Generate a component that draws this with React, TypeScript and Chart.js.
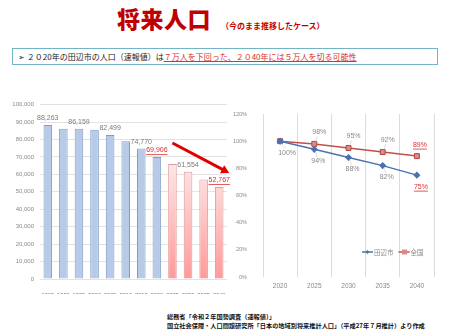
import React, { useEffect, useRef } from "react";
import { Chart, registerables } from "chart.js";

Chart.register(...registerables);

const years = ["1985", "1990", "1995", "2000", "2005", "2010", "2015", "2020", "2025", "2030", "2035", "2040"];
const population = [88263, 86200, 86159, 85600, 82499, 79000, 74770, 69906, 65900, 61554, 57000, 52767];
const actualCount = 8; // first 8 are census values, rest projection
const labeledBars = [0, 2, 4, 6, 7, 9, 11];
const highlightBars = [7, 11];
const popTicks = [0, 100000, 10000];

const ratioYears = ["2020", "2025", "2030", "2035", "2040"];
const tanabe = [100, 94, 88, 82, 75];
const national = [100, 98, 95, 92, 89];
const seriesNames = ["田辺市", "全国"];
const nationalLabeled = [1, 2, 3, 4];

const FONT = "'Liberation Sans', 'Noto Sans CJK JP', sans-serif";
const JP = "'Noto Sans CJK JP', sans-serif";
const GRAY = "#8a8a8a";
const RED_TXT = "#d93030";

function underlineText(ctx: CanvasRenderingContext2D, text: string, x: number, y: number) {
  const w = ctx.measureText(text).width;
  ctx.beginPath();
  ctx.moveTo(x - w / 2, y + 4.5);
  ctx.lineTo(x + w / 2, y + 4.5);
  ctx.lineWidth = 0.8;
  ctx.strokeStyle = ctx.fillStyle as string;
  ctx.stroke();
}

const barLabelPlugin = {
  id: "barLabels",
  afterDatasetsDraw(chart: any) {
    const ctx = chart.ctx;
    const meta = chart.getDatasetMeta(0);
    ctx.save();
    ctx.font = `7px ${FONT}`;
    ctx.textAlign = "center";
    ctx.textBaseline = "middle";
    labeledBars.forEach((i) => {
      const el = meta.data[i];
      const txt = population[i].toLocaleString("en-US");
      const hl = highlightBars.includes(i);
      ctx.fillStyle = hl ? RED_TXT : "#7a7a7a";
      const y = el.y - 7;
      ctx.fillText(txt, el.x, y);
      if (hl) underlineText(ctx, txt, el.x, y);
    });
    // downward trend arrow over the projection bars
    const xs = chart.scales.x;
    const ys = chart.scales.y;
    const x0 = xs.getPixelForValue(8);
    const y0 = ys.getPixelForValue(78000);
    const x1 = xs.getPixelForValue(11) + 10;
    const y1 = ys.getPixelForValue(60800);
    const ang = Math.atan2(y1 - y0, x1 - x0);
    ctx.strokeStyle = "#e00000";
    ctx.fillStyle = "#e00000";
    ctx.lineWidth = 3;
    ctx.beginPath();
    ctx.moveTo(x0, y0);
    ctx.lineTo(x1 - 5 * Math.cos(ang), y1 - 5 * Math.sin(ang));
    ctx.stroke();
    ctx.beginPath();
    ctx.moveTo(x1, y1);
    ctx.lineTo(x1 - 8 * Math.cos(ang) + 4.5 * Math.sin(ang), y1 - 8 * Math.sin(ang) - 4.5 * Math.cos(ang));
    ctx.lineTo(x1 - 8 * Math.cos(ang) - 4.5 * Math.sin(ang), y1 - 8 * Math.sin(ang) + 4.5 * Math.cos(ang));
    ctx.closePath();
    ctx.fill();
    ctx.restore();
  },
};

const lineLabelPlugin = {
  id: "lineLabels",
  afterDatasetsDraw(chart: any) {
    const ctx = chart.ctx;
    ctx.save();
    ctx.font = `7px ${FONT}`;
    ctx.textAlign = "center";
    ctx.textBaseline = "middle";
    const mb = chart.getDatasetMeta(0);
    const mr = chart.getDatasetMeta(1);
    const last = tanabe.length - 1;
    tanabe.forEach((v, i) => {
      const el = mb.data[i];
      const txt = v + "%";
      const hl = i === last;
      ctx.fillStyle = hl ? RED_TXT : GRAY;
      const x = el.x + (i === 0 ? 7 : 4);
      const y = el.y + 11.5;
      ctx.fillText(txt, x, y);
      if (hl) underlineText(ctx, txt, x, y);
      if (!hl) {
        ctx.strokeStyle = "#bbbbbb";
        ctx.lineWidth = 0.5;
        ctx.beginPath();
        ctx.moveTo(el.x + 1, el.y + 2);
        ctx.lineTo(x - 1, y - 4);
        ctx.stroke();
      }
    });
    nationalLabeled.forEach((i) => {
      const el = mr.data[i];
      const txt = national[i] + "%";
      const hl = i === last;
      ctx.fillStyle = hl ? RED_TXT : GRAY;
      const x = el.x + (hl ? 3 : 5);
      const y = el.y - 11.5;
      ctx.fillText(txt, x, y);
      if (hl) underlineText(ctx, txt, x, y);
      if (!hl) {
        ctx.strokeStyle = "#bbbbbb";
        ctx.lineWidth = 0.5;
        ctx.beginPath();
        ctx.moveTo(el.x + 1, el.y - 2);
        ctx.lineTo(x - 2, y + 4);
        ctx.stroke();
      }
    });
    // legend inside chart area, bottom right
    const ca = chart.chartArea;
    let lx = ca.right - 72;
    const ly = ca.bottom - 25;
    ctx.textAlign = "left";
    ctx.font = `6.5px ${JP}`;
    chart.data.datasets.forEach((ds: any, k: number) => {
      ctx.strokeStyle = ds.borderColor;
      ctx.lineWidth = 1.5;
      ctx.beginPath();
      ctx.moveTo(lx, ly);
      ctx.lineTo(lx + 11, ly);
      ctx.stroke();
      ctx.fillStyle = ds.pointBackgroundColor;
      if (k === 0) {
        ctx.beginPath();
        ctx.moveTo(lx + 5.5, ly - 2);
        ctx.lineTo(lx + 7.5, ly);
        ctx.lineTo(lx + 5.5, ly + 2);
        ctx.lineTo(lx + 3.5, ly);
        ctx.closePath();
        ctx.fill();
      } else {
        ctx.fillRect(lx + 3.5, ly - 2.5, 5, 5);
      }
      ctx.fillStyle = GRAY;
      ctx.fillText(ds.label, lx + 12, ly + 0.5);
      lx += 12 + ctx.measureText(ds.label).width + 5;
    });
    ctx.restore();
  },
};

function BarChart() {
  const ref = useRef<HTMLCanvasElement>(null);
  useEffect(() => {
    const chart = new Chart(ref.current!, {
      type: "bar",
      data: {
        labels: years,
        datasets: [
          {
            data: population,
            barPercentage: 0.55,
            categoryPercentage: 1,
            borderWidth: 1,
            borderColor: population.map((_, i) => (i < actualCount ? "#7f9dc9" : "#e39a9a")),
            backgroundColor: (c: any) => {
              const i = c.dataIndex;
              if (i < actualCount) return "#b7cbe8";
              const ca = c.chart.chartArea;
              if (!ca) return "#ffc8c8";
              const g = c.chart.ctx.createLinearGradient(0, ca.top + 60, 0, ca.bottom);
              g.addColorStop(0, "#ffe6e6");
              g.addColorStop(1, "#ff9a9a");
              return g;
            },
          },
        ],
      },
      options: {
        animation: false,
        responsive: false,
        maintainAspectRatio: false,
        layout: { padding: { top: 2.7, left: 0, right: 5, bottom: 6 } },
        plugins: { legend: { display: false }, tooltip: { enabled: false } },
        scales: {
          x: {
            grid: { display: false },
            border: { display: false },
            ticks: { color: "#707070", font: { size: 5.7, family: FONT }, maxRotation: 0, autoSkip: false, padding: 5 },
            afterFit: (s: any) => { s.height = 15; },
          },
          y: {
            min: popTicks[0],
            max: popTicks[1],
            ticks: {
              stepSize: popTicks[2],
              color: GRAY,
              font: { size: 6, family: FONT },
              padding: 6,
              callback: (v: any) => Number(v).toLocaleString("en-US"),
            },
            grid: { color: "#e3e3e3", drawTicks: false },
            border: { display: false },
            afterFit: (s: any) => { s.width = 40; },
          },
        },
      },
      plugins: [barLabelPlugin],
    } as any);
    return () => chart.destroy();
  }, []);
  return <canvas ref={ref} width={232} height={205} style={{ position: "absolute", left: 0, top: 95 }} />;
}

function LineChart() {
  const ref = useRef<HTMLCanvasElement>(null);
  useEffect(() => {
    const chart = new Chart(ref.current!, {
      type: "line",
      data: {
        labels: ratioYears,
        datasets: [
          {
            label: seriesNames[0],
            data: tanabe,
            borderColor: "#4a72b0",
            borderWidth: 1.5,
            pointStyle: "rectRot",
            pointRadius: 2.5,
            pointBackgroundColor: "#4a72b0",
            pointBorderColor: "#4a72b0",
          },
          {
            label: seriesNames[1],
            data: national,
            borderColor: "#c0504d",
            borderWidth: 1.5,
            pointStyle: "rect",
            pointRadius: 3.5,
            pointBackgroundColor: "#d98c8a",
            pointBorderColor: "#b8423f",
            pointBorderWidth: 1,
          },
        ],
      },
      options: {
        animation: false,
        responsive: false,
        maintainAspectRatio: false,
        layout: { padding: { top: 14, left: 0, right: 13, bottom: 6 } },
        plugins: { legend: { display: false }, tooltip: { enabled: false } },
        scales: {
          x: {
            offset: true,
            grid: { display: true, offset: true, color: "#dcdcdc", drawTicks: false },
            border: { display: false },
            ticks: { color: GRAY, font: { size: 6.5, family: FONT }, padding: 5 },
            afterFit: (s: any) => { s.height = 17; },
          },
          y: {
            min: 0,
            max: 120,
            ticks: {
              stepSize: 20,
              color: GRAY,
              font: { size: 5.5, family: FONT },
              padding: 8,
              callback: (v: any) => v + "%",
            },
            grid: { display: false },
            border: { display: false },
            afterFit: (s: any) => { s.width = 31; },
          },
        },
      },
      plugins: [lineLabelPlugin],
    } as any);
    return () => chart.destroy();
  }, []);
  return <canvas ref={ref} width={215} height={200} style={{ position: "absolute", left: 232, top: 100 }} />;
}

export default function App() {
  return (
    <div style={{ position: "absolute", left: 0, top: 0, width: 450, height: 333, background: "#fff", overflow: "hidden", fontFamily: JP }}>
      <div style={{ position: "absolute", left: 117, top: 7, fontSize: 23, lineHeight: "23px", fontWeight: 900, color: "#c00000", letterSpacing: 0.5 }}>
        将来人口
      </div>
      <div style={{ position: "absolute", left: 221, top: 21, fontSize: 8, lineHeight: "9px", fontWeight: 700, color: "#c00000" }}>
        （今のまま推移したケース）
      </div>
      <div style={{ position: "absolute", left: 12, top: 48, width: 424, height: 15, border: "1px solid #74b4c8" }}>
        <div style={{ position: "absolute", left: 5, top: 3, fontSize: 8, lineHeight: "9px", color: "#222", whiteSpace: "nowrap" }}>
          <span>➢ ２０20年の田辺市の人口（速報値）は</span>
          <span style={{ color: RED_TXT, textDecoration: "underline" }}>７万人を下回った、２０40年には５万人を切る可能性</span>
        </div>
      </div>
      <BarChart />
      <LineChart />
      <div style={{ position: "absolute", left: 167, top: 312, fontSize: 6.2, lineHeight: "9px", fontWeight: 700, color: "#111", whiteSpace: "nowrap" }}>
        総務省「令和２年国勢調査（速報値）」<br />
        国立社会保障・人口問題研究所「日本の地域別将来推計人口」（平成27年７月推計）より作成
      </div>
    </div>
  );
}
